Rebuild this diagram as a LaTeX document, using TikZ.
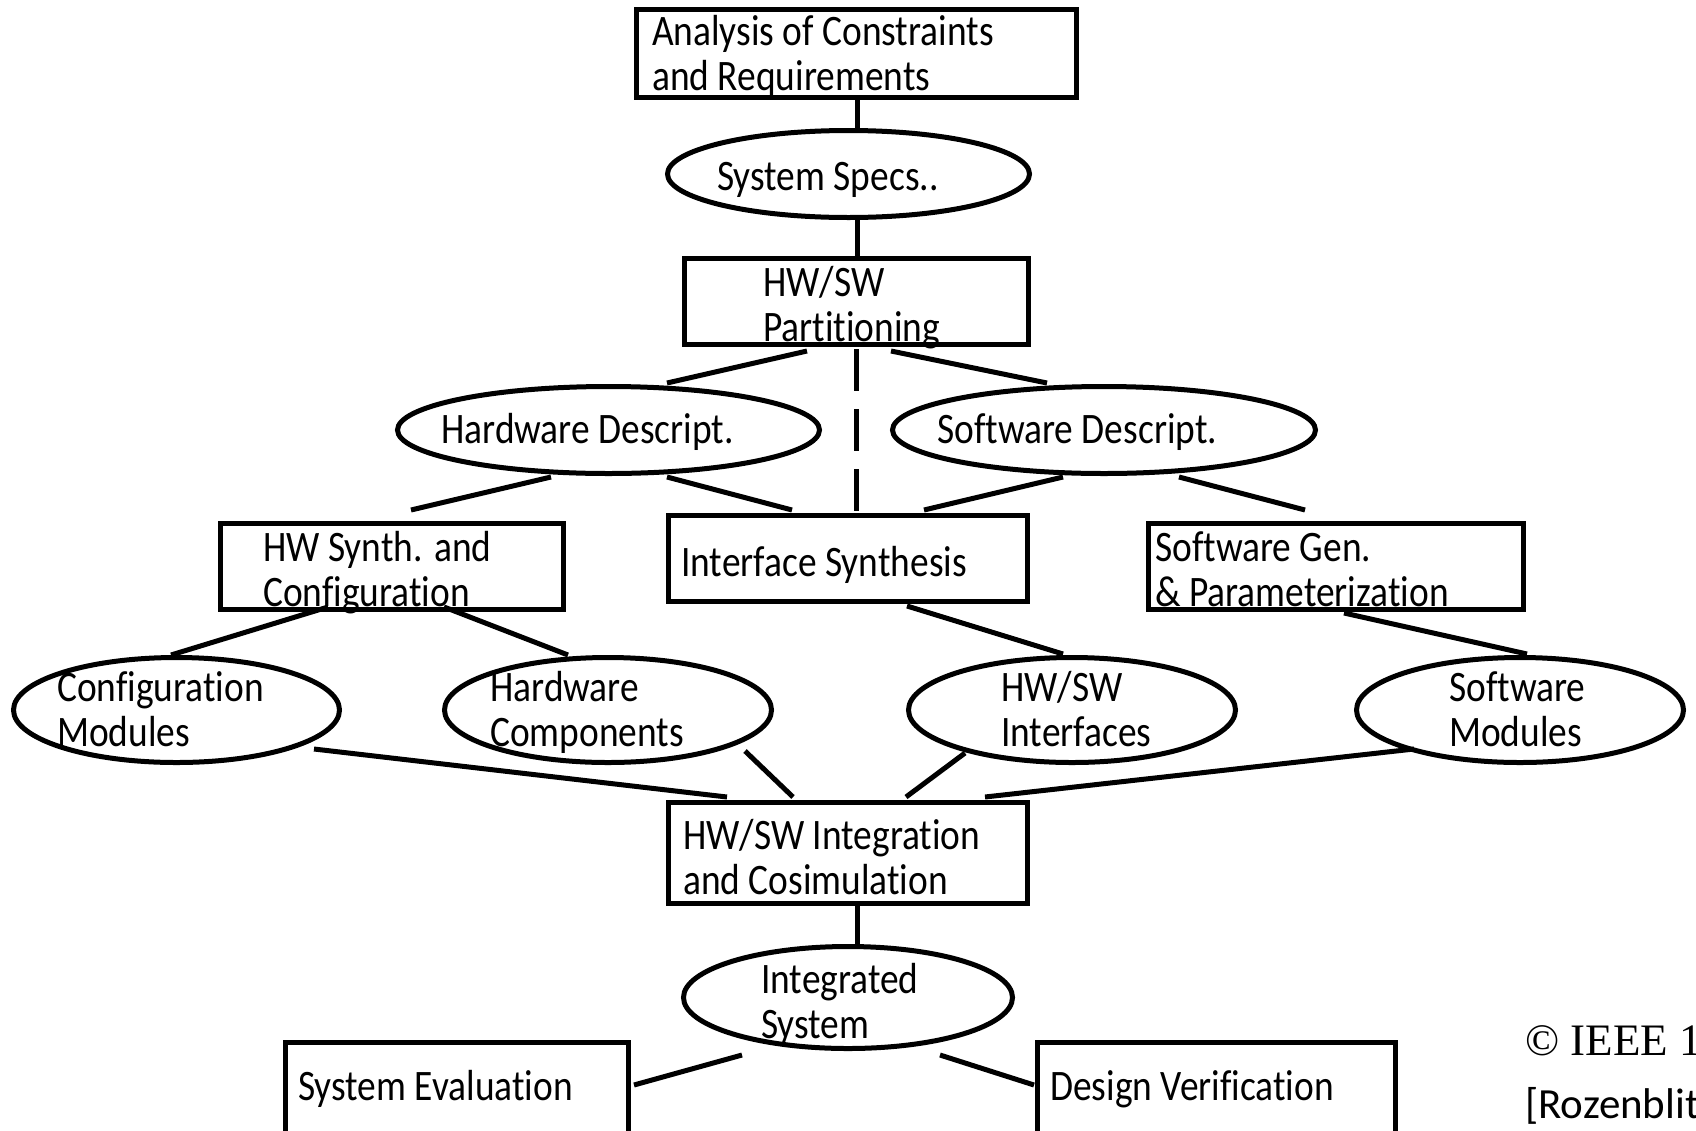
\documentclass[tikz,border=0pt]{standalone}
\usepackage{fontspec}
\setmainfont[FakeStretch=0.86,Ligatures={NoCommon}]{Carlito}
\newfontfamily\calnorm[Ligatures={NoCommon}]{Carlito}
\newfontfamily\timesf{Liberation Serif}
\usetikzlibrary{shapes.geometric}
\newcommand\twol[2]{\vtop{\hbox{#1}\hbox{#2}}}
\begin{document}
\begin{tikzpicture}[x=1pt,y=-1pt,
  box/.style={draw,line width=5pt,rectangle,inner sep=0pt},
  oval/.style={draw,line width=5pt,ellipse,inner sep=0pt},
  txt/.style={anchor=base west,inner sep=0pt,font=\fontsize{43.5}{45}\selectfont},
  conn/.style={line width=5pt},
  dashconn/.style={line width=5pt,dash pattern=on 42pt off 18pt}]
\useasboundingbox (0,0) rectangle (1696,1130);
\clip (0,0) rectangle (1696,1130);
\fill[white] (0,0) rectangle (1696,1130);

% boxes
\node[box,minimum width=440,minimum height=88] (top) at (856.5,53.5) {};
\node[box,minimum width=344,minimum height=86] (part) at (856.5,301.5) {};
\node[box,minimum width=343,minimum height=86] (hws) at (392,566.5) {};
\node[box,minimum width=359,minimum height=86] (ifs) at (848,558.5) {};
\node[box,minimum width=375,minimum height=86] (swg) at (1336,566.5) {};
\node[box,minimum width=359,minimum height=101] (integ) at (848,853) {};
\node[box,minimum width=343,minimum height=120] (seval) at (457,1102) {};
\node[box,minimum width=358,minimum height=120] (dver) at (1216.5,1102) {};

% ellipses
\node[oval,minimum width=362,minimum height=87] (specs) at (848.5,174) {};
\node[oval,minimum width=422,minimum height=87] (hwd) at (608.5,430) {};
\node[oval,minimum width=423,minimum height=87] (swd) at (1104,430) {};
\node[oval,minimum width=326,minimum height=105] (cfg) at (176.5,710) {};
\node[oval,minimum width=327,minimum height=105] (hwc) at (608,710) {};
\node[oval,minimum width=327,minimum height=105] (hsi) at (1072,710) {};
\node[oval,minimum width=327,minimum height=105] (swm) at (1520,710) {};
\node[oval,minimum width=329,minimum height=102] (isys) at (848,997.5) {};

% texts
\node[txt] (ttop) at (652,45) {\twol{Analysis of Constraints}{and Requirements}};
\node[txt] (tspecs) at (717,190) {System Specs..};
\node[txt] (tpart) at (763,296) {\twol{HW/SW}{Partitioning}};
\node[txt] (thwd) at (441,443) {Hardware Descript.};
\node[txt] (tswd) at (937,443) {Software Descript.};
\node[txt] (thws) at (263,561) {\twol{HW Synth. and}{Configuration}};
\node[txt] (tifs) at (681,576) {Interface Synthesis};
\node[txt] (tswg) at (1155,561) {\twol{Software Gen.}{\& Parameterization}};
\node[txt] (tcfg) at (57,701) {\twol{Configuration}{Modules}};
\node[txt] (thwc) at (490,701) {\twol{Hardware}{Components}};
\node[txt] (thsi) at (1001,701) {\twol{HW/SW}{Interfaces}};
\node[txt] (tswm) at (1449,701) {\twol{Software}{Modules}};
\node[txt] (tinteg) at (683,849) {\twol{HW/SW Integration}{and Cosimulation}};
\node[txt] (tisys) at (761,993) {\twol{Integrated}{System}};
\node[txt] (tseval) at (298,1100) {System Evaluation};
\node[txt] (tdver) at (1050,1100) {Design Verification};
\node[anchor=base west,inner sep=0pt,font=\timesf\fontsize{45}{45}\selectfont] (tieee) at (1525,1055) {© IEEE 1};
\node[anchor=base west,inner sep=0pt,font=\calnorm\fontsize{43}{43}\selectfont] (troz) at (1525,1118) {[Rozenblit};

% connector end points
\coordinate (a1) at (857,100); \coordinate (a2) at (857,130);
\coordinate (b1) at (857,218); \coordinate (b2) at (857,256);
\coordinate (c1) at (807,351); \coordinate (c2) at (667,383);
\coordinate (d1) at (891,351); \coordinate (d2) at (1047,383);
\coordinate (e1) at (856,349); \coordinate (e2) at (856,511);
\coordinate (f1) at (551,477); \coordinate (f2) at (411,510);
\coordinate (g1) at (667,477); \coordinate (g2) at (792,510);
\coordinate (h1) at (1063,477); \coordinate (h2) at (924,510);
\coordinate (i1) at (1179,477); \coordinate (i2) at (1305,510);
\coordinate (j1) at (328,607); \coordinate (j2) at (171,655);
\coordinate (k1) at (444,607); \coordinate (k2) at (568,655);
\coordinate (l1) at (907,606); \coordinate (l2) at (1063,654);
\coordinate (m1) at (1344,613); \coordinate (m2) at (1527,654);
\coordinate (n1) at (314,749); \coordinate (n2) at (727,797);
\coordinate (o1) at (745,751); \coordinate (o2) at (793,797);
\coordinate (p1) at (965,753); \coordinate (p2) at (906,797);
\coordinate (q1) at (1414,749); \coordinate (q2) at (985,797);
\coordinate (r1) at (857,906); \coordinate (r2) at (857,946);
\coordinate (s1) at (742,1055); \coordinate (s2) at (634,1085);
\coordinate (t1) at (940,1055); \coordinate (t2) at (1034,1085);

\draw[conn] (a1) -- (a2);
\draw[conn] (b1) -- (b2);
\draw[conn] (c1) -- (c2);
\draw[conn] (d1) -- (d2);
\draw[dashconn] (e1) -- (e2);
\draw[conn] (f1) -- (f2);
\draw[conn] (g1) -- (g2);
\draw[conn] (h1) -- (h2);
\draw[conn] (i1) -- (i2);
\draw[conn] (j1) -- (j2);
\draw[conn] (k1) -- (k2);
\draw[conn] (l1) -- (l2);
\draw[conn] (m1) -- (m2);
\draw[conn] (n1) -- (n2);
\draw[conn] (o1) -- (o2);
\draw[conn] (p1) -- (p2);
\draw[conn] (q1) -- (q2);
\draw[conn] (r1) -- (r2);
\draw[conn] (s1) -- (s2);
\draw[conn] (t1) -- (t2);
\end{tikzpicture}
\end{document}
